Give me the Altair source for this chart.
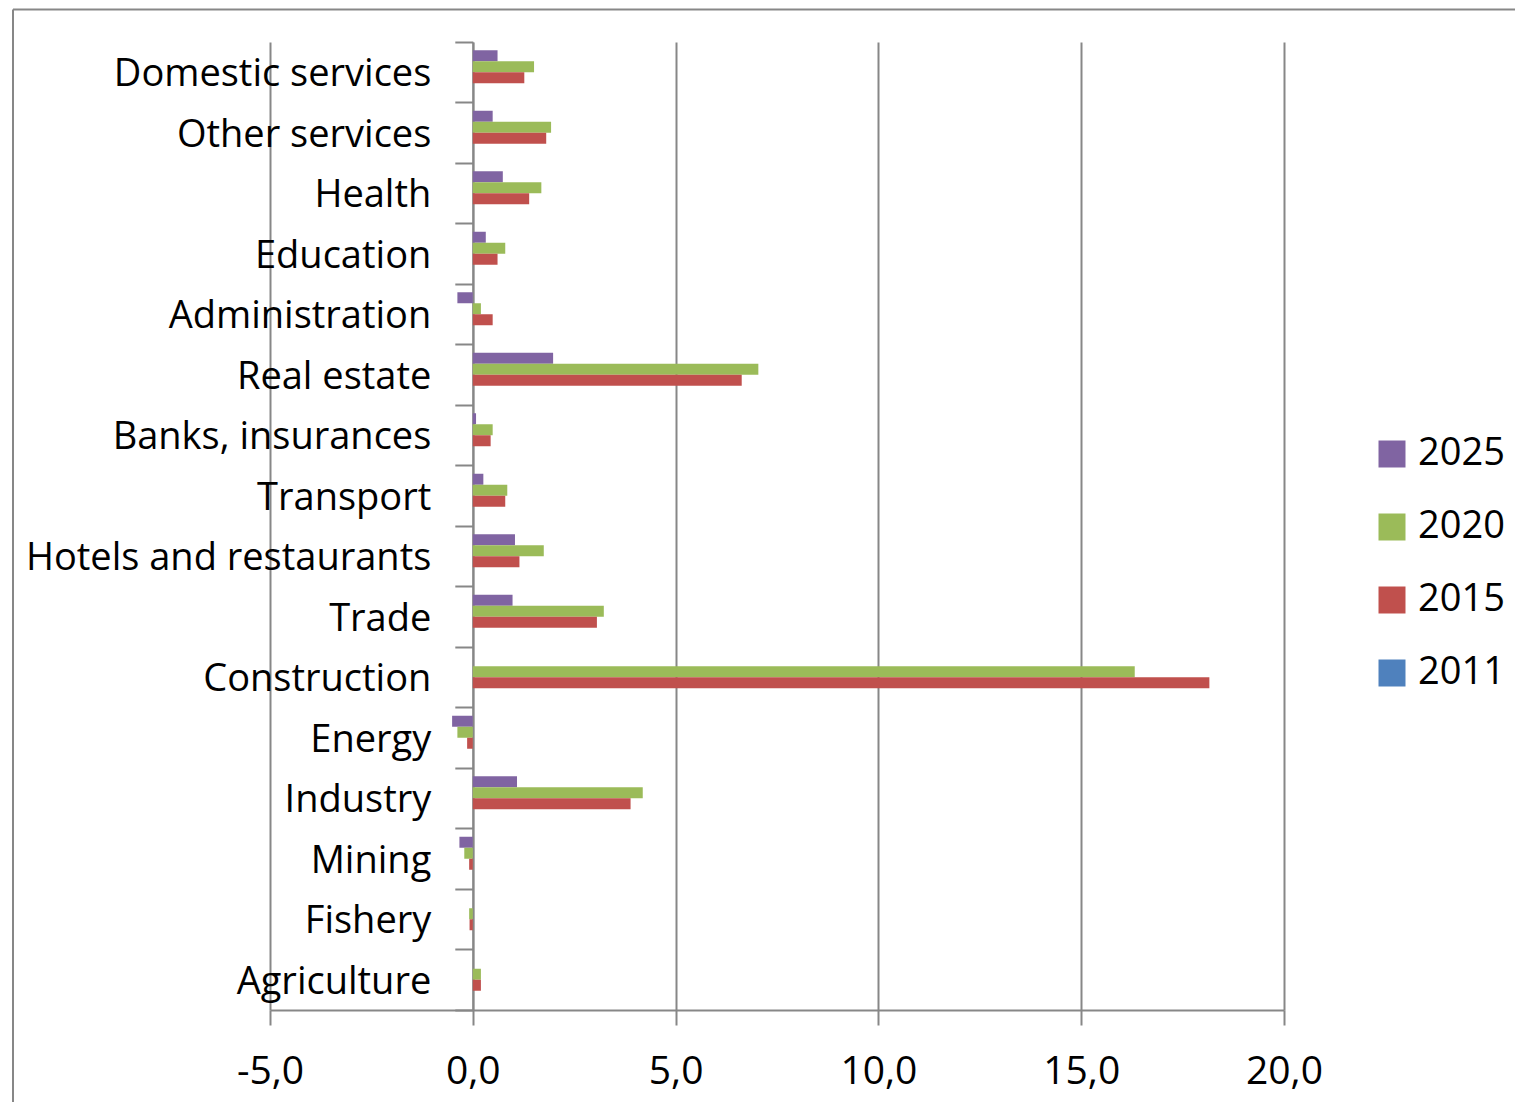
import altair as alt
import pandas as pd

sectors = ["Domestic services", "Other services", "Health", "Education", "Administration",
           "Real estate", "Banks, insurances", "Transport", "Hotels and restaurants", "Trade",
           "Construction", "Energy", "Industry", "Mining", "Fishery", "Agriculture"]
years = ["2025", "2020", "2015", "2011"]
colors = ["#8064A2", "#9BBB59", "#C0504D", "#4F81BD"]

v2025 = [0.61, 0.49, 0.74, 0.32, -0.38, 1.98, 0.08, 0.26, 1.04, 0.98, 0.0, -0.51, 1.09, -0.33, 0.0, 0.0]
v2020 = [1.51, 1.93, 1.69, 0.80, 0.20, 7.04, 0.49, 0.85, 1.75, 3.23, 16.32, -0.38, 4.19, -0.21, -0.09, 0.20]
v2015 = [1.27, 1.81, 1.39, 0.61, 0.49, 6.63, 0.44, 0.80, 1.15, 3.06, 18.16, -0.14, 3.89, -0.09, -0.08, 0.20]
v2011 = [0.0, 0.0, 0.0, 0.0, 0.0, 0.0, 0.0, 0.0, 0.0, 0.0, 0.0, 0.0, 0.0, 0.0, 0.0, 0.0]
x_ticks = [-5, 0, 5, 10, 15, 20]

series = {"2025": v2025, "2020": v2020, "2015": v2015, "2011": v2011}
rows = []
for yr in years:
    for s, v in zip(sectors, series[yr]):
        rows.append({"sector": s, "year": yr, "value": v})
df = pd.DataFrame(rows)

W, H = 1014, 968
GRAY = "#878787"
FONT = "Open Sans"

bars = alt.Chart(df).mark_bar().encode(
    x=alt.X("value:Q",
            scale=alt.Scale(domain=[-5, 20], nice=False, zero=False),
            axis=alt.Axis(values=x_ticks, title=None, grid=True, gridColor=GRAY, gridWidth=2,
                          domainColor=GRAY, domainWidth=2, tickColor=GRAY, tickWidth=2,
                          tickSize=15, labelFontSize=39, labelColor="black", labelFont=FONT,
                          labelPadding=27, labelFlush=False,
                          labelExpr="replace(replace(format(datum.value, '.1f'), '.', ','), '\u2212', '-')")),
    y=alt.Y("sector:N", sort=sectors,
            scale=alt.Scale(paddingInner=0, paddingOuter=0),
            axis=alt.Axis(title=None, offset=-W / 5, bandPosition=1, tickExtra=True,
                          domainColor=GRAY, domainWidth=2, tickColor=GRAY, tickWidth=2,
                          tickSize=18, labelFontSize=38, labelColor="black", labelFont=FONT,
                          labelPadding=24, labelLimit=600, labelOffset=3)),
    yOffset=alt.YOffset("year:N", sort=years,
                        scale=alt.Scale(paddingInner=0, paddingOuter=0.75)),
    color=alt.Color("year:N", scale=alt.Scale(domain=years, range=colors), title=None,
                    legend=alt.Legend(orient="none", legendX=1103, legendY=393,
                                      symbolType="square", symbolSize=729,
                                      symbolStrokeWidth=0, labelFontSize=38,
                                      labelFont=FONT, labelColor="black",
                                      labelOffset=7, rowPadding=35, padding=0)),
)

frame_data = alt.Data(values=[{"k": 1}])
frame_v = alt.Chart(frame_data).mark_rule(color=GRAY, strokeWidth=2).encode(
    x=alt.value(-257), y=alt.value(-32.5), y2=alt.value(H + 92))
frame_h = alt.Chart(frame_data).mark_rule(color=GRAY, strokeWidth=2).encode(
    x=alt.value(-257), x2=alt.value(W + 231), y=alt.value(-32.5))

chart = alt.layer(frame_v, frame_h, bars).properties(
    width=W, height=H,
    autosize=alt.AutoSizeParams(type="none"),
    padding={"left": 262, "top": 34, "right": 231, "bottom": 92},
).configure(font=FONT).configure_view(stroke=None)

chart.save("out.html", embed_options={"renderer": "svg", "actions": False})
